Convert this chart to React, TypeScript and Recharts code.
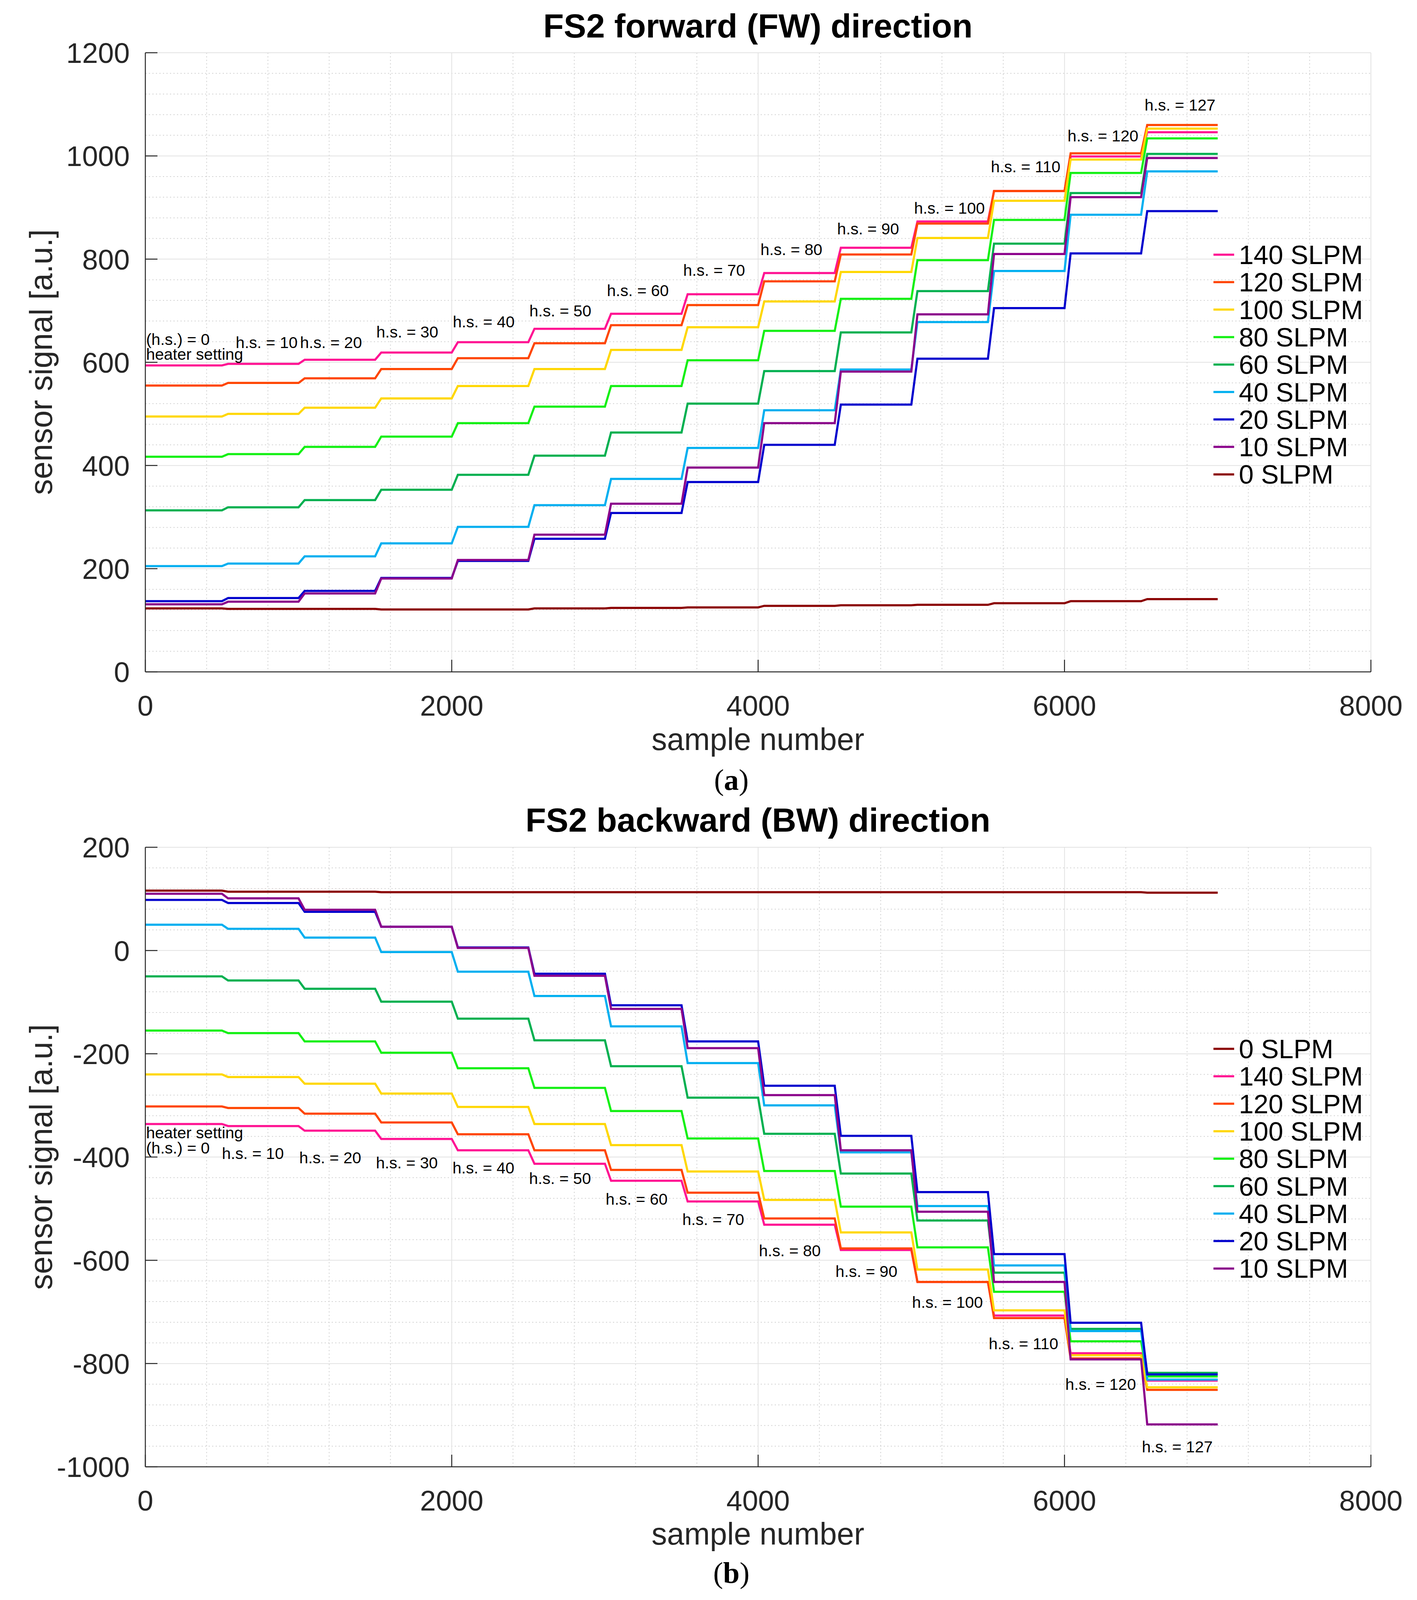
import React from 'react';
import { CartesianGrid, Line, LineChart, ReferenceDot, XAxis, YAxis } from 'recharts';

// heater setting steps, 500 samples each
const stepStarts = [0, 500, 1000, 1500, 2000, 2500, 3000, 3500, 4000, 4500, 5000, 5500, 6000, 6500];
const endSample = 7000;
const rampSamples = 40;
const heaterSettings = [0, 10, 20, 30, 40, 50, 60, 70, 80, 90, 100, 110, 120, 127];

const xTicks = [0, 2000, 4000, 6000, 8000];
const xMinor = [400, 800, 1200, 1600, 2400, 2800, 3200, 3600, 4400, 4800, 5200, 5600, 6400, 6800, 7200, 7600];
const fwYTicks = [0, 200, 400, 600, 800, 1000, 1200];
const bwYTicks = [-1000, -800, -600, -400, -200, 0, 200];

// forward direction, level of each step
const fw140 = [594, 597, 605, 619, 639, 665, 694, 732, 773, 822, 873, 932, 999, 1046];
const fw120 = [555, 560, 569, 587, 608, 637, 672, 711, 757, 809, 869, 932, 1005, 1060];
const fw100 = [495, 500, 512, 530, 554, 587, 624, 668, 718, 775, 841, 913, 993, 1053];
const fw80 = [417, 422, 436, 456, 482, 514, 554, 604, 661, 723, 798, 876, 967, 1034];
const fw60 = [313, 319, 333, 353, 382, 419, 464, 520, 583, 658, 738, 830, 928, 1004];
const fw40 = [205, 210, 224, 249, 281, 323, 374, 434, 507, 586, 678, 777, 886, 970];
const fw20 = [137, 143, 157, 182, 215, 258, 308, 368, 440, 518, 607, 705, 811, 893];
const fw10 = [131, 136, 152, 181, 217, 266, 326, 396, 482, 582, 693, 810, 920, 996];
const fw0 = [123, 122, 122, 121, 121, 123, 124, 125, 128, 129, 130, 133, 137, 141];

// backward direction
const bw0 = [116, 114, 114, 113, 113, 113, 113, 113, 113, 113, 113, 113, 113, 112];
const bw140 = [-336, -340, -349, -365, -387, -413, -446, -486, -531, -580, -642, -707, -780, -833];
const bw120 = [-302, -305, -316, -333, -356, -387, -425, -469, -519, -577, -642, -712, -790, -851];
const bw100 = [-240, -245, -258, -277, -303, -336, -377, -428, -483, -546, -618, -697, -784, -846];
const bw80 = [-155, -160, -176, -198, -228, -266, -311, -364, -427, -496, -575, -661, -757, -825];
const bw60 = [-50, -58, -74, -99, -132, -174, -224, -285, -355, -432, -523, -624, -733, -818];
const bw40 = [50, 42, 25, -3, -41, -88, -147, -218, -300, -391, -495, -610, -737, -831];
const bw20 = [98, 92, 75, 46, 6, -45, -106, -176, -262, -359, -468, -588, -721, -821];
const bw10 = [110, 101, 79, 46, 5, -49, -113, -189, -280, -387, -506, -642, -792, -918];

// annotation anchors (sample, signal) for h.s. = 10 ... 127
const fwNoteSamples = [590, 1010, 1508, 2007, 2507, 3013, 3511, 4015, 4516, 5018, 5519, 6020, 6523];
const fwNoteValues = [628, 628, 648, 668, 689, 728, 768, 808, 848, 888, 968, 1028, 1088];
const bwNoteSamples = [500, 1005, 1505, 2005, 2505, 3005, 3505, 4005, 4505, 5005, 5505, 6005, 6505];
const bwNoteValues = [-404, -412, -422, -432, -452, -492, -532, -592, -632, -692, -772, -851, -972];

const flowColors: Record<string, string> = {
    '140 SLPM': '#ff1493',
    '120 SLPM': '#ff4500',
    '100 SLPM': '#ffd700',
    '80 SLPM': '#14f014',
    '60 SLPM': '#00b050',
    '40 SLPM': '#00aff0',
    '20 SLPM': '#0000cd',
    '10 SLPM': '#8b008b',
    '0 SLPM': '#8b0000',
};

interface ISeries {
    key: string;
    label: string;
    levels: number[];
}

const fwSeries: ISeries[] = [
    { key: 's140', label: '140 SLPM', levels: fw140 },
    { key: 's120', label: '120 SLPM', levels: fw120 },
    { key: 's100', label: '100 SLPM', levels: fw100 },
    { key: 's80', label: '80 SLPM', levels: fw80 },
    { key: 's60', label: '60 SLPM', levels: fw60 },
    { key: 's40', label: '40 SLPM', levels: fw40 },
    { key: 's20', label: '20 SLPM', levels: fw20 },
    { key: 's10', label: '10 SLPM', levels: fw10 },
    { key: 's0', label: '0 SLPM', levels: fw0 },
];

const bwSeries: ISeries[] = [
    { key: 's0', label: '0 SLPM', levels: bw0 },
    { key: 's140', label: '140 SLPM', levels: bw140 },
    { key: 's120', label: '120 SLPM', levels: bw120 },
    { key: 's100', label: '100 SLPM', levels: bw100 },
    { key: 's80', label: '80 SLPM', levels: bw80 },
    { key: 's60', label: '60 SLPM', levels: bw60 },
    { key: 's40', label: '40 SLPM', levels: bw40 },
    { key: 's20', label: '20 SLPM', levels: bw20 },
    { key: 's10', label: '10 SLPM', levels: bw10 },
];

const SANS = '"Liberation Sans", Arial, Helvetica, sans-serif';
const SERIF = '"Liberation Serif", "Times New Roman", serif';
const AXIS_COLOR = '#262626';
const Y_TICK_GAP = 40;
const X_TICK_GAP = 60;
const INNER_TICK = 31;

// the captured page is a bit shorter than the figure, so vertical positions are squeezed slightly
const VS = 0.966;
const vy = (y: number) => Math.round(y * VS);

function buildRows(series: ISeries[]) {
    const rows: any[] = [];
    stepStarts.forEach((start, i) => {
        if (i > 0) {
            const before: any = { sample: start };
            series.forEach(s => { before[s.key] = s.levels[i - 1]; });
            rows.push(before);
        }
        const row: any = { sample: i === 0 ? start : start + rampSamples };
        series.forEach(s => { row[s.key] = s.levels[i]; });
        rows.push(row);
    });
    const last: any = { sample: endSample };
    series.forEach(s => { last[s.key] = s.levels[s.levels.length - 1]; });
    rows.push(last);
    return rows;
}

const YTick = ({ x, y, payload }: any) => (
    <g>
        <line x1={x + Y_TICK_GAP} x2={x + Y_TICK_GAP + INNER_TICK} y1={y} y2={y} stroke={AXIS_COLOR} strokeWidth={2.5}/>
        <text x={x} y={y} dy='0.36em' textAnchor='end' fontSize={73} fontFamily={SANS} fill={AXIS_COLOR}>{payload.value}</text>
    </g>
);

const XTick = ({ x, y, payload }: any) => (
    <g>
        <line x1={x} x2={x} y1={y - X_TICK_GAP} y2={y - X_TICK_GAP - INNER_TICK} stroke={AXIS_COLOR} strokeWidth={2.5}/>
        <text x={x} y={y} dy='0.71em' textAnchor='middle' fontSize={73} fontFamily={SANS} fill={AXIS_COLOR}>{payload.value}</text>
    </g>
);

const noteShape = (text: string) => (p: any) => (
    <text x={p.cx} y={p.cy} fontSize={41} fontFamily={SANS} fill='#000'>{text}</text>
);

interface IPanelProps {
    series: ISeries[];
    yDomain: [number, number];
    yTicks: number[];
    noteSamples: number[];
    noteValues: number[];
    firstNotes: { text: string; value: number }[];
    height: number;
    margin: { top: number; right: number; bottom: number; left: number };
}

function Panel({ series, yDomain, yTicks, noteSamples, noteValues, firstNotes, height, margin }: IPanelProps) {
    const rows = buildRows(series);
    const yMinor: number[] = [];
    for (let v = yDomain[0]; v <= yDomain[1]; v += 40) {
        if (v % 200 !== 0) yMinor.push(v);
    }
    return (
        <LineChart width={3627} height={height} data={rows} margin={margin}>
            <XAxis xAxisId='minor' type='number' dataKey='sample' domain={[0, 8000]} ticks={xMinor} interval={0} allowDataOverflow hide/>
            <YAxis yAxisId='minor' type='number' domain={yDomain} ticks={yMinor} interval={0} allowDataOverflow hide/>
            <CartesianGrid xAxisId='minor' yAxisId='minor' stroke='#d2d2d2' strokeWidth={2} strokeDasharray='3 6'/>
            <CartesianGrid stroke='#e2e2e2' strokeWidth={2}/>
            <XAxis
                type='number'
                dataKey='sample'
                domain={[0, 8000]}
                ticks={xTicks}
                interval={0}
                allowDataOverflow
                height={120}
                tickSize={0}
                tickMargin={X_TICK_GAP}
                tickLine={false}
                axisLine={{ stroke: AXIS_COLOR, strokeWidth: 2.5 }}
                tick={(p: any) => <XTick {...p}/>}
            />
            <YAxis
                type='number'
                domain={yDomain}
                ticks={yTicks}
                interval={0}
                allowDataOverflow
                width={250}
                tickSize={0}
                tickMargin={Y_TICK_GAP}
                tickLine={false}
                axisLine={{ stroke: AXIS_COLOR, strokeWidth: 2.5 }}
                tick={(p: any) => <YTick {...p}/>}
            />
            {series.map(s => (
                <Line
                    key={s.key}
                    type='linear'
                    dataKey={s.key}
                    name={s.label}
                    stroke={flowColors[s.label]}
                    strokeWidth={5.5}
                    dot={false}
                    activeDot={false}
                    isAnimationActive={false}
                />
            ))}
            {firstNotes.map(n => (
                <ReferenceDot key={n.text} x={5} y={n.value} r={1} ifOverflow='visible' shape={noteShape(n.text)}/>
            ))}
            {noteSamples.map((sample, i) => (
                <ReferenceDot
                    key={sample}
                    x={sample}
                    y={noteValues[i]}
                    r={1}
                    ifOverflow='visible'
                    shape={noteShape(`h.s. = ${heaterSettings[i + 1]}`)}
                />
            ))}
        </LineChart>
    );
}

function LegendBlock({ series, top }: { series: ISeries[]; top: number }) {
    return (
        <g>
            {series.map((s, i) => {
                const cy = top + i * 70.3;
                return (
                    <g key={s.key}>
                        <line x1={3106} x2={3159} y1={cy} y2={cy} stroke={flowColors[s.label]} strokeWidth={5.5}/>
                        <text x={3171} y={cy + 24} fontSize={68} fontFamily={SANS} fill='#000'>{s.label}</text>
                    </g>
                );
            })}
        </g>
    );
}

const FW_TOP = 0;
const FW_HEIGHT = 1900;
const BW_TOP = 2040;
const BW_HEIGHT = 1900;

export default function App() {
    return (
        <div style={{ position: 'absolute', left: 0, top: 0, width: 3627, height: 4238, background: '#fff', overflow: 'hidden' }}>
            <div style={{ position: 'absolute', left: 0, top: FW_TOP }}>
                <Panel
                    series={fwSeries}
                    yDomain={[0, 1200]}
                    yTicks={fwYTicks}
                    noteSamples={fwNoteSamples}
                    noteValues={fwNoteValues}
                    firstNotes={[{ text: '(h.s.) = 0', value: 634 }, { text: 'heater setting', value: 605 }]}
                    height={FW_HEIGHT}
                    margin={{ top: vy(140) - FW_TOP, right: 118, bottom: FW_TOP + FW_HEIGHT - vy(1781) - 120, left: 122 }}
                />
            </div>
            <div style={{ position: 'absolute', left: 0, top: BW_TOP }}>
                <Panel
                    series={bwSeries}
                    yDomain={[-1000, 200]}
                    yTicks={bwYTicks}
                    noteSamples={bwNoteSamples}
                    noteValues={bwNoteValues}
                    firstNotes={[{ text: 'heater setting', value: -364 }, { text: '(h.s.) = 0', value: -393 }]}
                    height={BW_HEIGHT}
                    margin={{ top: vy(2245) - BW_TOP, right: 118, bottom: BW_TOP + BW_HEIGHT - vy(3887) - 120, left: 122 }}
                />
            </div>
            <svg width={3627} height={4238} style={{ position: 'absolute', left: 0, top: 0, pointerEvents: 'none' }}>
                <text x={1940} y={vy(99)} textAnchor='middle' fontSize={86} fontWeight='bold' fontFamily={SANS} fill='#000'>FS2 forward (FW) direction</text>
                <text transform={`translate(133, ${vy(960)}) rotate(-90)`} textAnchor='middle' fontSize={81} fontFamily={SANS} fill={AXIS_COLOR}>sensor signal [a.u.]</text>
                <text x={1940} y={vy(1977) + 10} textAnchor='middle' fontSize={79} fontFamily={SANS} fill={AXIS_COLOR}>sample number</text>
                <text x={1872} y={vy(2089) + 4} textAnchor='middle' fontSize={76} fontFamily={SERIF} fill='#000'>(<tspan fontWeight='bold'>a</tspan>)</text>
                <LegendBlock series={fwSeries} top={vy(675)}/>

                <text x={1940} y={vy(2204)} textAnchor='middle' fontSize={86} fontWeight='bold' fontFamily={SANS} fill='#000'>FS2 backward (BW) direction</text>
                <text transform={`translate(133, ${vy(3066)}) rotate(-90)`} textAnchor='middle' fontSize={81} fontFamily={SANS} fill={AXIS_COLOR}>sensor signal [a.u.]</text>
                <text x={1940} y={vy(4083) + 10} textAnchor='middle' fontSize={79} fontFamily={SANS} fill={AXIS_COLOR}>sample number</text>
                <text x={1872} y={vy(4190) + 4} textAnchor='middle' fontSize={76} fontFamily={SERIF} fill='#000'>(<tspan fontWeight='bold'>b</tspan>)</text>
                <LegendBlock series={bwSeries} top={vy(2779)}/>
            </svg>
        </div>
    );
}
